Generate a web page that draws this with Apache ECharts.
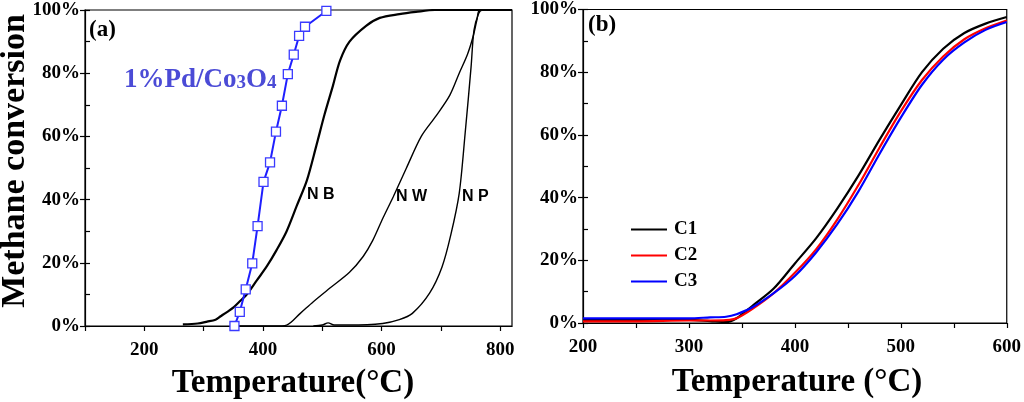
<!DOCTYPE html>
<html>
<head>
<meta charset="utf-8">
<script src="https://cdn.jsdelivr.net/npm/echarts@6/dist/echarts.min.js"></script>
<style>
  html, body { margin: 0; padding: 0; background: #fff; }
  #chart { width: 1024px; height: 402px; }
</style>
</head>
<body>
<div id="chart"></div>
<script>
// panel (a): light-off curves, temperature (°C) vs conversion (%)
const pdTemp = [352, 361, 371, 382, 391, 401, 412, 422, 432, 442, 452, 461, 471, 507];
const pdConv = [0, 4.5, 11.6, 19.8, 31.6, 45.6, 51.8, 61.5, 69.7, 79.7, 85.9, 91.8, 94.7, 99.7];

const nbTemp = [265, 290, 306, 320, 328, 340, 351, 362, 373, 390, 407, 423, 440, 457, 474, 490, 504, 518, 530, 546, 574, 597, 630, 658, 690, 820];
const nbConv = [0.5, 0.8, 1.4, 2, 3, 4.5, 6, 8, 10, 14.5, 19, 24, 30, 38, 46, 57, 67, 76, 84, 90, 95, 97.5, 98.7, 99.4, 100, 100];

const nwTemp = [350, 420, 440, 463, 485, 513, 546, 569, 585, 602, 620, 642, 667, 692, 715, 731, 745, 755, 761, 766, 820];
const nwConv = [0, 0, 0.3, 4, 7.7, 12, 17, 22, 27, 34, 41, 50, 60, 66.5, 73, 80, 86, 92, 97, 100, 100];

const npTemp = [485, 500, 510, 520, 546, 602, 630, 652, 681, 702, 717, 731, 741, 751, 756, 764, 770, 820];
const npConv = [0, 0.3, 1, 0.3, 0.3, 0.8, 2, 4, 10.4, 18.7, 29, 42, 61, 82, 93.7, 99, 100, 100];

// panel (b): catalysts C1-C3
const bTemp = [200, 250, 300, 320, 335, 345, 360, 380, 400, 420, 440, 460, 480, 500, 520, 540, 560, 580, 600];
const c1Conv = [1, 1, 1, 0.6, 0.3, 1.5, 5.5, 11, 19, 27, 36.5, 47, 58.5, 69.5, 80, 87.5, 92.5, 95.5, 97.6];
const c2Conv = [0.5, 0.5, 0.8, 0.8, 0.9, 1.5, 4.5, 9.5, 16, 23.5, 33, 44, 56, 67.5, 77.5, 85, 90.5, 94, 96.5];
const c3Conv = [1.5, 1.5, 1.5, 1.8, 2, 2.8, 5, 9.5, 15, 22.5, 31.5, 42, 54, 65.5, 76, 84, 89.5, 93.5, 96];

const serif = '"Liberation Serif", "Times New Roman", serif';
const sans = '"Liberation Sans", Arial, sans-serif';

const zip = (xs, ys) => xs.map((x, i) => [x, ys[i]]);

let chartDom = document.getElementById('chart');
let myChart = echarts.init(chartDom, null, { renderer: 'canvas' });

const labelStyle = {
  color: '#000',
  fontFamily: serif,
  fontWeight: 'bold',
  fontSize: 19
};

// main y axis: labels + outward ticks
const yMain = (gridIndex) => ({
  type: 'value',
  gridIndex,
  min: 0,
  max: 100,
  interval: 20,
  position: 'left',
  axisLine: { show: true, lineStyle: { color: '#000', width: 1.2 } },
  axisTick: { show: true, inside: false, length: 5, lineStyle: { color: '#000', width: 1.2 } },
  axisLabel: Object.assign({ formatter: '{value}%', margin: 5 }, labelStyle),
  splitLine: { show: false }
});

// second y axis only for the inward minor ticks
const yMinor = (gridIndex) => ({
  type: 'value',
  gridIndex,
  min: 0,
  max: 100,
  interval: 10,
  position: 'left',
  offset: 0,
  axisLine: { show: true, lineStyle: { color: 'rgba(0,0,0,0)', width: 0 } },
  axisTick: { show: true, inside: true, length: 5, lineStyle: { color: '#000', width: 1.2 } },
  axisLabel: { show: false },
  splitLine: { show: false }
});

const smoothLine = { smooth: 0.3, showSymbol: false };

let option = {
  animation: false,
  backgroundColor: '#fff',
  grid: [
    { left: 85, top: 10, width: 427, height: 316, show: true, borderColor: '#000', borderWidth: 1.2, backgroundColor: 'transparent' },
    { left: 583, top: 7, width: 429, height: 316, show: true, borderColor: '#000', borderWidth: 1.2, backgroundColor: 'transparent' }
  ],
  xAxis: [
    {
      type: 'value',
      gridIndex: 0,
      min: 100,
      max: 820,
      interval: 100,
      axisLine: { show: true, lineStyle: { color: '#000', width: 1.2 } },
      axisTick: { show: true, inside: false, length: 5, lineStyle: { color: '#000', width: 1.2 } },
      axisLabel: Object.assign({
        margin: 15,
        showMaxLabel: false,
        formatter: (v) => (v % 200 === 0 && v >= 200 && v <= 800 ? String(v) : '')
      }, labelStyle),
      splitLine: { show: false }
    },
    {
      type: 'value',
      gridIndex: 1,
      min: 200,
      max: 600,
      interval: 50,
      axisLine: { show: true, lineStyle: { color: '#000', width: 1.2 } },
      axisTick: { show: true, inside: false, length: 5, lineStyle: { color: '#000', width: 1.2 } },
      axisLabel: Object.assign({
        margin: 15,
        formatter: (v) => (v % 100 === 0 ? String(v) : '')
      }, labelStyle),
      splitLine: { show: false }
    }
  ],
  yAxis: [yMain(0), yMinor(0), yMain(1), yMinor(1)],
  legend: {
    show: true,
    data: ['C1', 'C2', 'C3'],
    orient: 'vertical',
    left: 626,
    top: 215,
    itemWidth: 36,
    itemHeight: 2,
    itemGap: 7,
    icon: 'rect',
    textStyle: { color: '#000', fontFamily: serif, fontWeight: 'bold', fontSize: 19, padding: [0, 0, 0, 2] }
  },
  graphic: [
    { type: 'text', left: 89, top: 19, style: { text: '(a)', fill: '#000', font: 'bold 23px ' + serif } },
    { type: 'text', left: 588, top: 14, style: { text: '(b)', fill: '#000', font: 'bold 23px ' + serif } },
    {
      type: 'text', left: 124, top: 67,
      style: {
        text: '1%Pd/Co{s|3}O{s|4}',
        fill: '#4b4bd6',
        font: 'bold 27px ' + serif,
        rich: { s: { fontSize: 19, fontWeight: 'bold', fontFamily: serif, fill: '#4b4bd6', padding: [6, 0, 0, 0] } }
      }
    },
    { type: 'text', left: 307, top: 187, style: { text: 'N B', fill: '#000', font: 'bold 16px ' + sans } },
    { type: 'text', left: 396, top: 189, style: { text: 'N W', fill: '#000', font: 'bold 16px ' + sans } },
    { type: 'text', left: 462, top: 189, style: { text: 'N P', fill: '#000', font: 'bold 16px ' + sans } },
    {
      type: 'text', x: 15, y: 161, rotation: Math.PI / 2,
      style: { text: 'Methane conversion', fill: '#000', font: 'bold 34px ' + serif, align: 'center', verticalAlign: 'middle' }
    },
    {
      type: 'text', x: 293, y: 383,
      style: { text: 'Temperature(°C)', fill: '#000', font: 'bold 33px ' + serif, align: 'center', verticalAlign: 'middle' }
    },
    {
      type: 'text', x: 797, y: 382,
      style: { text: 'Temperature (°C)', fill: '#000', font: 'bold 33px ' + serif, align: 'center', verticalAlign: 'middle' }
    }
  ],
  series: [
    Object.assign({
      name: 'NB', type: 'line', xAxisIndex: 0, yAxisIndex: 0,
      data: zip(nbTemp, nbConv),
      lineStyle: { color: '#000', width: 2.2 }, z: 2
    }, smoothLine),
    Object.assign({
      name: 'NW', type: 'line', xAxisIndex: 0, yAxisIndex: 0,
      data: zip(nwTemp, nwConv),
      lineStyle: { color: '#000', width: 1.4 }, z: 2
    }, smoothLine),
    Object.assign({
      name: 'NP', type: 'line', xAxisIndex: 0, yAxisIndex: 0,
      data: zip(npTemp, npConv),
      lineStyle: { color: '#000', width: 1.4 }, z: 2
    }, smoothLine),
    {
      name: '1%Pd/Co3O4', type: 'line', xAxisIndex: 0, yAxisIndex: 0,
      data: zip(pdTemp, pdConv), smooth: false,
      symbol: 'rect', symbolSize: 9, showSymbol: true,
      itemStyle: { color: '#fff', borderColor: '#3a3aff', borderWidth: 1.3 },
      lineStyle: { color: '#1f1fff', width: 2 }, z: 3
    },
    Object.assign({
      name: 'C1', type: 'line', xAxisIndex: 1, yAxisIndex: 2,
      data: zip(bTemp, c1Conv),
      itemStyle: { color: '#000' }, lineStyle: { color: '#000', width: 2.2 }, z: 2
    }, smoothLine),
    Object.assign({
      name: 'C2', type: 'line', xAxisIndex: 1, yAxisIndex: 2,
      data: zip(bTemp, c2Conv),
      itemStyle: { color: '#ff0000' }, lineStyle: { color: '#ff0000', width: 2.2 }, z: 3
    }, smoothLine),
    Object.assign({
      name: 'C3', type: 'line', xAxisIndex: 1, yAxisIndex: 2,
      data: zip(bTemp, c3Conv),
      itemStyle: { color: '#0000ff' }, lineStyle: { color: '#0000ff', width: 2.2 }, z: 4
    }, smoothLine)
  ]
};

option && myChart.setOption(option);
</script>
</body>
</html>
